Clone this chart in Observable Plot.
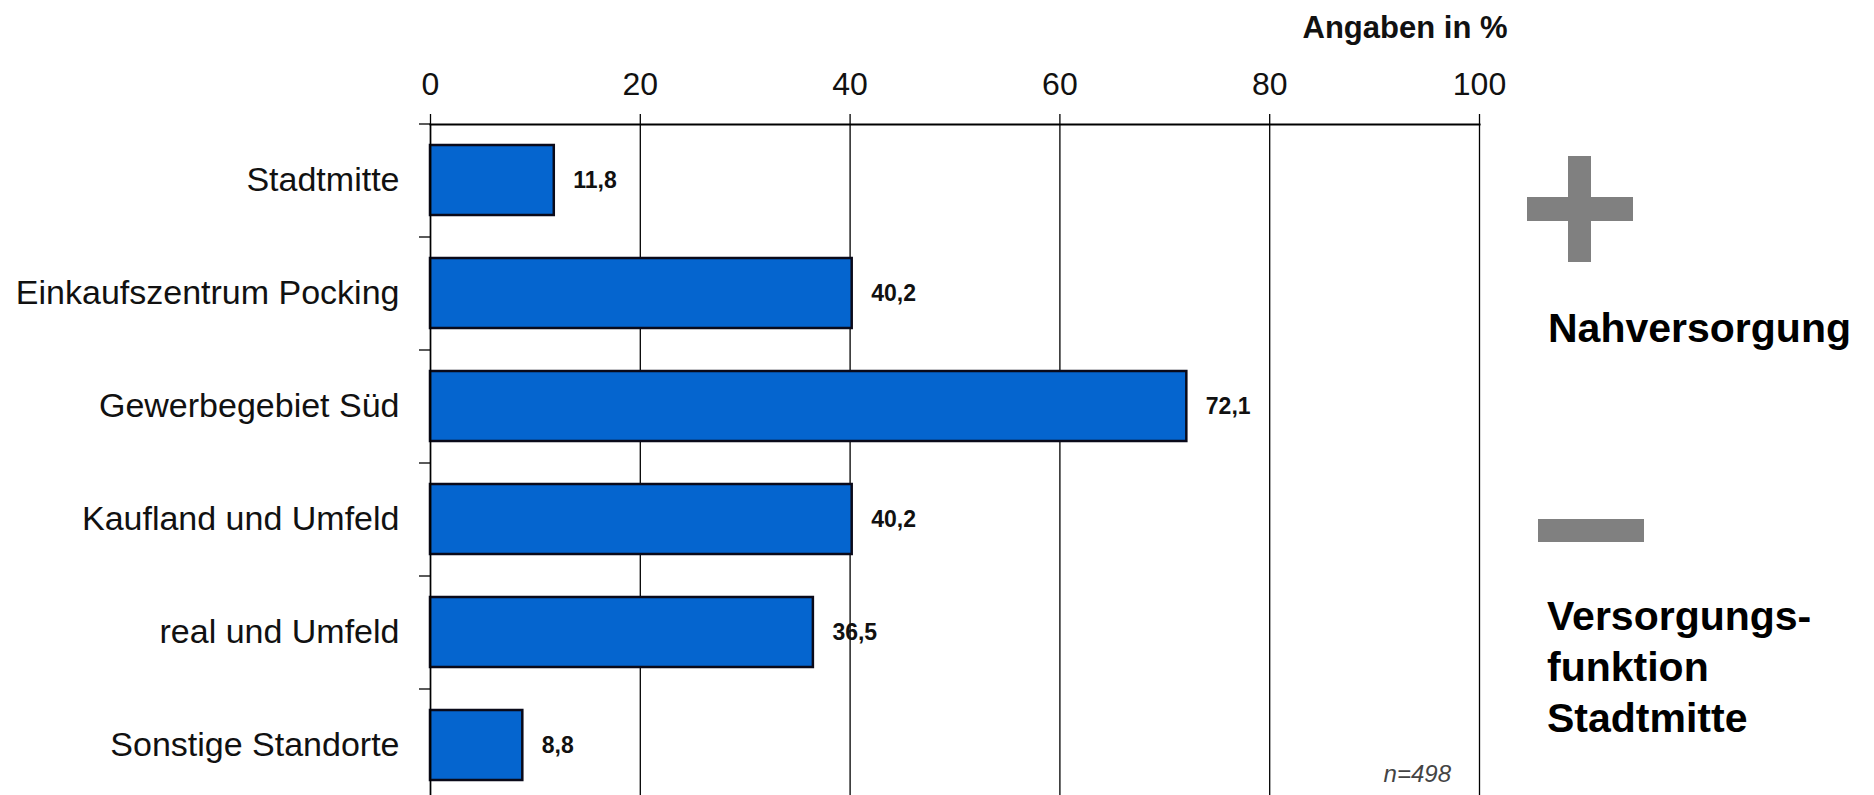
<!DOCTYPE html>
<html lang="de">
<head>
<meta charset="utf-8">
<title>Einkaufsstandorte Pocking</title>
<script src="https://cdn.jsdelivr.net/npm/d3@7"></script>
<script src="https://cdn.jsdelivr.net/npm/@observablehq/plot@0.6"></script>
<style>
  html, body { margin: 0; padding: 0; background: #fff; }
  #chart { width: 1874px; height: 795px; overflow: hidden; }
  svg { font-family: "Liberation Sans", Arial, sans-serif; }
</style>
</head>
<body>
<div id="chart"></div>
<script>
// Standorte (Kategorien) und Anteile in %
const categories = [
  "Stadtmitte",
  "Einkaufszentrum Pocking",
  "Gewerbegebiet Süd",
  "Kaufland und Umfeld",
  "real und Umfeld",
  "Sonstige Standorte"
];
const values = [11.8, 40.2, 72.1, 40.2, 36.5, 8.8];
const xTicks = [0, 20, 40, 60, 80, 100];
const axisTitle = "Angaben in %";
const sampleNote = "n=498";

const rows = categories.map((c, i) => ({category: c, value: values[i]}));
const fmt = v => v.toLocaleString("de-DE", {minimumFractionDigits: 1, maximumFractionDigits: 1});

// Layout
const W = 1874, H = 795;
const mLeft = 430, mRight = 395, mTop = 124, mBottom = -7;
const step = (H - mBottom - mTop) / categories.length;   // band step in px
const pxPerUnit = (W - mLeft - mRight) / 100;
const leftTick = 11 / pxPerUnit;                           // length of left ticks in data units

const chart = Plot.plot({
  width: W,
  height: H,
  marginLeft: mLeft,
  marginRight: mRight,
  marginTop: mTop,
  marginBottom: mBottom,
  style: {fontFamily: "'Liberation Sans', Arial, sans-serif", background: "#fff", color: "#000"},
  x: {domain: [0, 100], ticks: xTicks},
  y: {domain: categories, paddingInner: 0.38, paddingOuter: 0.19},
  marks: [
    Plot.gridX(xTicks, {stroke: "#000", strokeOpacity: 1, strokeWidth: 1.3}),
    Plot.frame({anchor: "top", stroke: "#000", strokeWidth: 2}),
    Plot.ruleY(categories, {y: d => d, dy: -step / 2, x1: -leftTick, x2: 0, stroke: "#000", strokeWidth: 1.3}),
    Plot.axisX(xTicks, {
      anchor: "top", tickSize: 11, tickPadding: 19, fontSize: 32, label: null,
      tickFormat: d => String(d), stroke: "#000", strokeWidth: 1.3, fill: "#111"
    }),
    Plot.axisY({anchor: "left", tickSize: 0, tickPadding: 31, fontSize: 34, label: null, fill: "#111"}),
    Plot.barX(rows, {x: "value", y: "category", fill: "#0565cf", stroke: "#0a0a1a", strokeWidth: 2.5}),
    Plot.ruleX([0], {stroke: "#000", strokeWidth: 1.5}),
    Plot.text(rows, {
      x: "value", y: "category", text: d => fmt(d.value),
      dx: 19, textAnchor: "start", fontSize: 23, fontWeight: "bold", fill: "#111"
    }),
    Plot.text([axisTitle], {
      frameAnchor: "top-right", text: d => d, textAnchor: "end", lineAnchor: "bottom",
      dx: 28, dy: -87, fontSize: 31, fontWeight: "bold", fill: "#111"
    })
  ]
});

document.getElementById("chart").appendChild(chart);

// Notes and the plus/minus signs to the right of the chart
const svg = d3.select(chart);
const note = svg.append("g")
  .attr("font-family", "'Liberation Sans', Arial, sans-serif")
  .attr("text-anchor", "start");

note.append("text")
  .attr("x", 1451).attr("y", 782)
  .attr("text-anchor", "end")
  .attr("font-size", 24).attr("font-style", "italic")
  .attr("fill", "#444")
  .text(sampleNote);

const grey = "#808080";
// plus sign
note.append("rect").attr("x", 1527).attr("y", 197).attr("width", 106).attr("height", 24).attr("fill", grey);
note.append("rect").attr("x", 1568).attr("y", 156).attr("width", 23).attr("height", 106).attr("fill", grey);
// minus sign
note.append("rect").attr("x", 1538).attr("y", 519).attr("width", 106).attr("height", 23).attr("fill", grey);

note.append("text")
  .attr("x", 1548).attr("y", 342)
  .attr("text-anchor", "start")
  .attr("font-size", 41).attr("font-weight", "bold").attr("fill", "#000")
  .text("Nahversorgung");

const lower = ["Versorgungs-", "funktion", "Stadtmitte"];
note.selectAll("text.lower").data(lower).join("text")
  .attr("class", "lower")
  .attr("x", 1547)
  .attr("y", (d, i) => 630 + i * 51)
  .attr("text-anchor", "start")
  .attr("font-size", 41).attr("font-weight", "bold").attr("fill", "#000")
  .text(d => d);
</script>
</body>
</html>
